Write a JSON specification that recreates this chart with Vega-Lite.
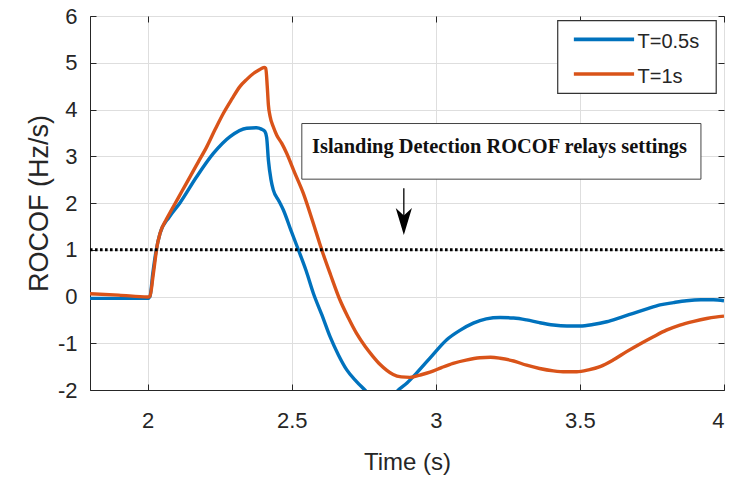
{
  "$schema": "https://vega.github.io/schema/vega-lite/v6.json",
  "width": 634,
  "height": 374,
  "autosize": {"type": "none"},
  "padding": {"left": 90, "top": 16, "right": 24, "bottom": 89},
  "background": "white",
  "config": {
    "view": {"stroke": "#262626", "strokeWidth": 1},
    "axis": {
      "domainColor": "#262626",
      "domainWidth": 1,
      "tickColor": "#262626",
      "tickSize": -6,
      "gridColor": "#dedede",
      "gridWidth": 1,
      "labelFont": "Liberation Sans",
      "labelFontSize": 22,
      "labelColor": "#262626",
      "labelExpr": "'' + datum.value",
      "titleFont": "Liberation Sans",
      "titleFontWeight": "normal",
      "titleColor": "#262626"
    }
  },
  "datasets": {
    "rocof": [
      {"t": 1.80, "rocof": -0.04, "series": "T=0.5s"},
      {"t": 1.90, "rocof": -0.04, "series": "T=0.5s"},
      {"t": 2.00, "rocof": -0.04, "series": "T=0.5s"},
      {"t": 2.008, "rocof": 0.0, "series": "T=0.5s"},
      {"t": 2.018, "rocof": 0.5, "series": "T=0.5s"},
      {"t": 2.03, "rocof": 1.0, "series": "T=0.5s"},
      {"t": 2.043, "rocof": 1.35, "series": "T=0.5s"},
      {"t": 2.075, "rocof": 1.7, "series": "T=0.5s"},
      {"t": 2.112, "rocof": 2.0, "series": "T=0.5s"},
      {"t": 2.17, "rocof": 2.56, "series": "T=0.5s"},
      {"t": 2.228, "rocof": 3.06, "series": "T=0.5s"},
      {"t": 2.286, "rocof": 3.42, "series": "T=0.5s"},
      {"t": 2.344, "rocof": 3.6, "series": "T=0.5s"},
      {"t": 2.378, "rocof": 3.61, "series": "T=0.5s"},
      {"t": 2.395, "rocof": 3.58, "series": "T=0.5s"},
      {"t": 2.407, "rocof": 3.53, "series": "T=0.5s"},
      {"t": 2.413, "rocof": 3.4, "series": "T=0.5s"},
      {"t": 2.419, "rocof": 2.92, "series": "T=0.5s"},
      {"t": 2.428, "rocof": 2.5, "series": "T=0.5s"},
      {"t": 2.436, "rocof": 2.28, "series": "T=0.5s"},
      {"t": 2.455, "rocof": 2.05, "series": "T=0.5s"},
      {"t": 2.471, "rocof": 1.85, "series": "T=0.5s"},
      {"t": 2.497, "rocof": 1.42, "series": "T=0.5s"},
      {"t": 2.523, "rocof": 1.0, "series": "T=0.5s"},
      {"t": 2.55, "rocof": 0.55, "series": "T=0.5s"},
      {"t": 2.575, "rocof": 0.07, "series": "T=0.5s"},
      {"t": 2.605, "rocof": -0.4, "series": "T=0.5s"},
      {"t": 2.633, "rocof": -0.86, "series": "T=0.5s"},
      {"t": 2.662, "rocof": -1.25, "series": "T=0.5s"},
      {"t": 2.691, "rocof": -1.57, "series": "T=0.5s"},
      {"t": 2.725, "rocof": -1.82, "series": "T=0.5s"},
      {"t": 2.76, "rocof": -2.04, "series": "T=0.5s"},
      {"t": 2.79, "rocof": -2.25, "series": "T=0.5s"},
      {"t": 2.82, "rocof": -2.3, "series": "T=0.5s"},
      {"t": 2.845, "rocof": -2.2, "series": "T=0.5s"},
      {"t": 2.864, "rocof": -2.04, "series": "T=0.5s"},
      {"t": 2.9, "rocof": -1.85, "series": "T=0.5s"},
      {"t": 2.933, "rocof": -1.64, "series": "T=0.5s"},
      {"t": 2.985, "rocof": -1.28, "series": "T=0.5s"},
      {"t": 3.037, "rocof": -0.93, "series": "T=0.5s"},
      {"t": 3.085, "rocof": -0.72, "series": "T=0.5s"},
      {"t": 3.13, "rocof": -0.57, "series": "T=0.5s"},
      {"t": 3.175, "rocof": -0.48, "series": "T=0.5s"},
      {"t": 3.223, "rocof": -0.45, "series": "T=0.5s"},
      {"t": 3.27, "rocof": -0.46, "series": "T=0.5s"},
      {"t": 3.315, "rocof": -0.5, "series": "T=0.5s"},
      {"t": 3.36, "rocof": -0.56, "series": "T=0.5s"},
      {"t": 3.408, "rocof": -0.61, "series": "T=0.5s"},
      {"t": 3.455, "rocof": -0.63, "series": "T=0.5s"},
      {"t": 3.5, "rocof": -0.63, "series": "T=0.5s"},
      {"t": 3.545, "rocof": -0.6, "series": "T=0.5s"},
      {"t": 3.593, "rocof": -0.54, "series": "T=0.5s"},
      {"t": 3.64, "rocof": -0.45, "series": "T=0.5s"},
      {"t": 3.685, "rocof": -0.36, "series": "T=0.5s"},
      {"t": 3.73, "rocof": -0.27, "series": "T=0.5s"},
      {"t": 3.778, "rocof": -0.18, "series": "T=0.5s"},
      {"t": 3.825, "rocof": -0.13, "series": "T=0.5s"},
      {"t": 3.87, "rocof": -0.09, "series": "T=0.5s"},
      {"t": 3.92, "rocof": -0.07, "series": "T=0.5s"},
      {"t": 3.963, "rocof": -0.07, "series": "T=0.5s"},
      {"t": 4.0, "rocof": -0.09, "series": "T=0.5s"},

      {"t": 1.80, "rocof": 0.06, "series": "T=1s"},
      {"t": 1.90, "rocof": 0.03, "series": "T=1s"},
      {"t": 2.00, "rocof": -0.01, "series": "T=1s"},
      {"t": 2.008, "rocof": 0.0, "series": "T=1s"},
      {"t": 2.018, "rocof": 0.4, "series": "T=1s"},
      {"t": 2.026, "rocof": 0.78, "series": "T=1s"},
      {"t": 2.032, "rocof": 1.05, "series": "T=1s"},
      {"t": 2.043, "rocof": 1.35, "series": "T=1s"},
      {"t": 2.065, "rocof": 1.65, "series": "T=1s"},
      {"t": 2.089, "rocof": 1.92, "series": "T=1s"},
      {"t": 2.118, "rocof": 2.24, "series": "T=1s"},
      {"t": 2.147, "rocof": 2.56, "series": "T=1s"},
      {"t": 2.176, "rocof": 2.88, "series": "T=1s"},
      {"t": 2.205, "rocof": 3.2, "series": "T=1s"},
      {"t": 2.234, "rocof": 3.57, "series": "T=1s"},
      {"t": 2.263, "rocof": 3.92, "series": "T=1s"},
      {"t": 2.292, "rocof": 4.22, "series": "T=1s"},
      {"t": 2.32, "rocof": 4.49, "series": "T=1s"},
      {"t": 2.345, "rocof": 4.65, "series": "T=1s"},
      {"t": 2.367, "rocof": 4.77, "series": "T=1s"},
      {"t": 2.388, "rocof": 4.85, "series": "T=1s"},
      {"t": 2.404, "rocof": 4.9, "series": "T=1s"},
      {"t": 2.41, "rocof": 4.88, "series": "T=1s"},
      {"t": 2.415, "rocof": 4.5, "series": "T=1s"},
      {"t": 2.419, "rocof": 4.1, "series": "T=1s"},
      {"t": 2.425, "rocof": 3.85, "series": "T=1s"},
      {"t": 2.436, "rocof": 3.63, "series": "T=1s"},
      {"t": 2.448, "rocof": 3.45, "series": "T=1s"},
      {"t": 2.465, "rocof": 3.28, "series": "T=1s"},
      {"t": 2.482, "rocof": 3.07, "series": "T=1s"},
      {"t": 2.51, "rocof": 2.65, "series": "T=1s"},
      {"t": 2.54, "rocof": 2.21, "series": "T=1s"},
      {"t": 2.572, "rocof": 1.62, "series": "T=1s"},
      {"t": 2.604, "rocof": 1.0, "series": "T=1s"},
      {"t": 2.635, "rocof": 0.46, "series": "T=1s"},
      {"t": 2.667, "rocof": -0.07, "series": "T=1s"},
      {"t": 2.696, "rocof": -0.45, "series": "T=1s"},
      {"t": 2.725, "rocof": -0.79, "series": "T=1s"},
      {"t": 2.755, "rocof": -1.07, "series": "T=1s"},
      {"t": 2.783, "rocof": -1.29, "series": "T=1s"},
      {"t": 2.806, "rocof": -1.45, "series": "T=1s"},
      {"t": 2.83, "rocof": -1.58, "series": "T=1s"},
      {"t": 2.852, "rocof": -1.67, "series": "T=1s"},
      {"t": 2.88, "rocof": -1.72, "series": "T=1s"},
      {"t": 2.91, "rocof": -1.73, "series": "T=1s"},
      {"t": 2.945, "rocof": -1.68, "series": "T=1s"},
      {"t": 2.98, "rocof": -1.62, "series": "T=1s"},
      {"t": 3.02, "rocof": -1.52, "series": "T=1s"},
      {"t": 3.06, "rocof": -1.43, "series": "T=1s"},
      {"t": 3.105, "rocof": -1.36, "series": "T=1s"},
      {"t": 3.153, "rocof": -1.31, "series": "T=1s"},
      {"t": 3.19, "rocof": -1.3, "series": "T=1s"},
      {"t": 3.223, "rocof": -1.32, "series": "T=1s"},
      {"t": 3.27, "rocof": -1.38, "series": "T=1s"},
      {"t": 3.315, "rocof": -1.47, "series": "T=1s"},
      {"t": 3.36, "rocof": -1.54, "series": "T=1s"},
      {"t": 3.408, "rocof": -1.59, "series": "T=1s"},
      {"t": 3.45, "rocof": -1.61, "series": "T=1s"},
      {"t": 3.489, "rocof": -1.61, "series": "T=1s"},
      {"t": 3.53, "rocof": -1.57, "series": "T=1s"},
      {"t": 3.57, "rocof": -1.5, "series": "T=1s"},
      {"t": 3.615, "rocof": -1.36, "series": "T=1s"},
      {"t": 3.662, "rocof": -1.18, "series": "T=1s"},
      {"t": 3.71, "rocof": -1.01, "series": "T=1s"},
      {"t": 3.755, "rocof": -0.86, "series": "T=1s"},
      {"t": 3.8, "rocof": -0.72, "series": "T=1s"},
      {"t": 3.847, "rocof": -0.61, "series": "T=1s"},
      {"t": 3.895, "rocof": -0.53, "series": "T=1s"},
      {"t": 3.94, "rocof": -0.47, "series": "T=1s"},
      {"t": 3.97, "rocof": -0.44, "series": "T=1s"},
      {"t": 4.0, "rocof": -0.42, "series": "T=1s"}
    ],
    "single": [{}]
  },
  "resolve": {"axis": {"x": "independent", "y": "independent"}},
  "layer": [
    {
      "data": {"name": "rocof"},
      "mark": {"type": "line", "strokeWidth": 3.4, "clip": true, "interpolate": "monotone"},
      "encoding": {
        "x": {
          "field": "t", "type": "quantitative",
          "scale": {"domain": [1.8, 4], "nice": false, "zero": false},
          "axis": {"values": [2, 2.5, 3, 3.5, 4], "title": "Time (s)", "titleFontSize": 24, "labelPadding": 26, "titlePadding": 19}
        },
        "y": {
          "field": "rocof", "type": "quantitative",
          "scale": {"domain": [-2, 6], "nice": false, "zero": false},
          "axis": {"values": [-2, -1, 0, 1, 2, 3, 4, 5, 6], "title": "ROCOF (Hz/s)", "titleFontSize": 27, "labelPadding": 19, "titlePadding": 4}
        },
        "color": {
          "field": "series", "type": "nominal",
          "scale": {"domain": ["T=0.5s", "T=1s"], "range": ["#0072BD", "#D95319"]},
          "legend": null
        }
      }
    },
    {
      "data": {"name": "single"},
      "mark": {"type": "rule", "color": "black", "strokeWidth": 3, "strokeDash": [2.6, 2.4]},
      "encoding": {
        "x": {"datum": 1.8, "type": "quantitative", "axis": {"orient": "top", "values": [2, 2.5, 3, 3.5, 4], "labels": false, "title": null, "grid": false, "domain": false}},
        "x2": {"datum": 4},
        "y": {"datum": 1, "type": "quantitative", "axis": {"orient": "right", "values": [-2, -1, 0, 1, 2, 3, 4, 5, 6], "labels": false, "title": null, "grid": false, "domain": false}}
      }
    },
    {
      "data": {"name": "single"},
      "mark": {"type": "rect", "fill": "white", "stroke": "#444444", "strokeWidth": 1},
      "encoding": {
        "x": {"datum": 2.535, "type": "quantitative", "axis": null},
        "x2": {"datum": 3.92},
        "y": {"datum": 3.7, "type": "quantitative", "axis": null},
        "y2": {"datum": 2.51}
      }
    },
    {
      "data": {"name": "single"},
      "mark": {"type": "text", "text": "Islanding Detection ROCOF relays settings", "font": "Liberation Serif", "fontWeight": "bold", "fontSize": 20.4, "color": "#111111", "align": "center", "baseline": "middle"},
      "encoding": {
        "x": {"datum": 3.221, "type": "quantitative", "axis": null},
        "y": {"datum": 3.2, "type": "quantitative", "axis": null}
      }
    },
    {
      "data": {"name": "single"},
      "mark": {"type": "rule", "color": "black", "strokeWidth": 1.3},
      "encoding": {
        "x": {"datum": 2.889, "type": "quantitative", "axis": null},
        "y": {"datum": 2.314, "type": "quantitative", "axis": null},
        "y2": {"datum": 1.5}
      }
    },
    {
      "data": {"name": "single"},
      "mark": {"type": "point", "shape": "M0,1L-0.6,-1L0,-0.45L0.6,-1Z", "size": 729, "filled": true, "color": "black", "opacity": 1},
      "encoding": {
        "x": {"datum": 2.889, "type": "quantitative", "axis": null},
        "y": {"datum": 1.604, "type": "quantitative", "axis": null}
      }
    },
    {
      "data": {"name": "single"},
      "mark": {"type": "rect", "fill": "white", "stroke": "#333333", "strokeWidth": 1.2},
      "encoding": {
        "x": {"datum": 3.423, "type": "quantitative", "axis": null},
        "x2": {"datum": 3.973},
        "y": {"datum": 5.9, "type": "quantitative", "axis": null},
        "y2": {"datum": 4.347}
      }
    },
    {
      "data": {"name": "single"},
      "mark": {"type": "rule", "strokeWidth": 3.6},
      "encoding": {
        "x": {"datum": 3.479, "type": "quantitative", "axis": null},
        "x2": {"datum": 3.688},
        "y": {"datum": 5.5, "type": "quantitative", "axis": null},
        "color": {"datum": "T=0.5s", "type": "nominal", "legend": null}
      }
    },
    {
      "data": {"name": "single"},
      "mark": {"type": "rule", "strokeWidth": 3.6},
      "encoding": {
        "x": {"datum": 3.479, "type": "quantitative", "axis": null},
        "x2": {"datum": 3.688},
        "y": {"datum": 4.76, "type": "quantitative", "axis": null},
        "color": {"datum": "T=1s", "type": "nominal", "legend": null}
      }
    },
    {
      "data": {"name": "single"},
      "mark": {"type": "text", "text": "T=0.5s", "font": "Liberation Sans", "fontSize": 20, "color": "#262626", "align": "left", "baseline": "middle", "dy": 3},
      "encoding": {
        "x": {"datum": 3.7, "type": "quantitative", "axis": null},
        "y": {"datum": 5.5, "type": "quantitative", "axis": null}
      }
    },
    {
      "data": {"name": "single"},
      "mark": {"type": "text", "text": "T=1s", "font": "Liberation Sans", "fontSize": 20, "color": "#262626", "align": "left", "baseline": "middle", "dy": 3},
      "encoding": {
        "x": {"datum": 3.7, "type": "quantitative", "axis": null},
        "y": {"datum": 4.76, "type": "quantitative", "axis": null}
      }
    }
  ]
}
